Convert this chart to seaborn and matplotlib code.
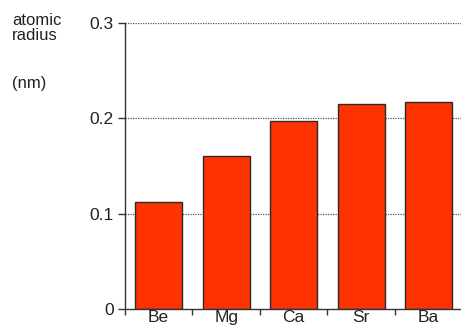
import matplotlib
matplotlib.use("Agg")
import matplotlib.pyplot as plt
import seaborn as sns
import pandas as pd
import numpy as np

elements = ["Be", "Mg", "Ca", "Sr", "Ba"]
radius_nm = [0.112, 0.160, 0.197, 0.215, 0.217]
y_ticks = [0, 0.1, 0.2, 0.3]
y_labels = ["0", "0.1", "0.2", "0.3"]

sns.set_theme(style="white")
plt.rcParams["font.family"] = ["Liberation Sans", "DejaVu Sans"]

df = pd.DataFrame({"element": elements, "radius": radius_nm})

fig = plt.figure(figsize=(4.61, 3.29), dpi=100)
ax = fig.add_axes([0.271, 0.061, 0.732, 0.869])

for y in y_ticks[1:]:
    ax.axhline(y, color="#555555", linestyle=(0, (1, 1)), linewidth=0.9, zorder=0)

sns.barplot(data=df, x="element", y="radius", color="#ff3300", width=0.7,
            edgecolor="#2a2a2a", linewidth=1.0, saturation=1, ax=ax, zorder=2)

ax.set_xlim(-0.5, 4.5)
ax.set_ylim(0, 0.3)
ax.set_yticks(y_ticks)
ax.set_yticklabels(y_labels, fontsize=12.5, color="#222222")
ax.set_xticks(range(len(elements)))
ax.set_xticklabels(elements, fontsize=12.5, color="#222222")
ax.set_xticks(np.arange(-0.5, 4.6, 1), minor=True)
ax.tick_params(axis="x", which="major", bottom=True, length=0, pad=1)
ax.tick_params(axis="x", which="minor", bottom=True, length=4, width=1,
               color="#333333", direction="out")
ax.tick_params(axis="y", left=True, length=5, width=1, color="#333333",
               direction="out", pad=3)
ax.set_xlabel("")
ax.set_ylabel("")

for side in ["top", "right"]:
    ax.spines[side].set_visible(False)
for side in ["left", "bottom"]:
    ax.spines[side].set_color("#333333")
    ax.spines[side].set_linewidth(1.0)

fig.text(0.026, 0.96, "atomic\nradius", fontsize=12, color="#222222",
         va="top", ha="left", linespacing=0.95)
fig.text(0.026, 0.745, "(nm)", fontsize=12, color="#222222", va="center", ha="left")

fig.savefig("out.png", dpi=100)
